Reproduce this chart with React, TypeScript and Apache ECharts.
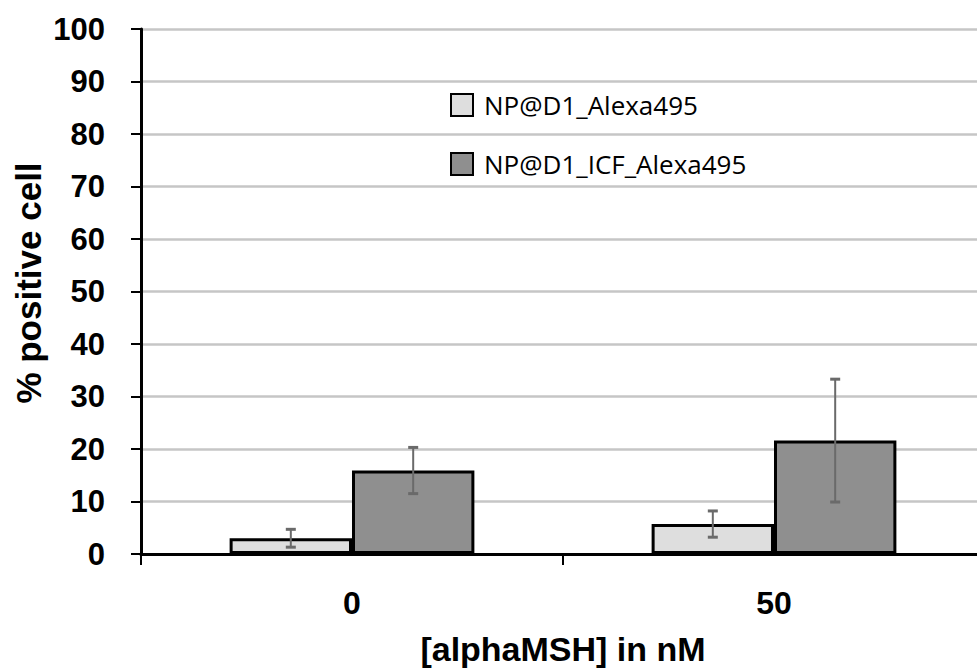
import React, { useEffect, useRef } from "react";
import * as echarts from "echarts";

const categories = ["0", "50"];
const seriesNames = ["NP@D1_Alexa495", "NP@D1_ICF_Alexa495"];
const lightValues = [3.0, 5.7];
const lightErrors = [1.7, 2.5];
const darkValues = [15.9, 21.6];
const darkErrors = [4.4, 11.7];
const yTicks = { min: 0, max: 100, interval: 10 };
const xAxisTitle = "[alphaMSH] in nM";
const yAxisTitle = "% positive cell";

const BAR_GAP_PCT = 42;

function errorSeries(values: number[], errors: number[], side: number) {
  return {
    type: "custom",
    coordinateSystem: "cartesian2d",
    z: 10,
    silent: true,
    encode: { x: 0, y: [1, 2] },
    data: values.map((v, i) => [i, v - errors[i], v + errors[i]]),
    renderItem: (params: any, api: any) => {
      const band = api.size([1, 0])[0];
      const barW = (band * (1 - BAR_GAP_PCT / 100)) / 2;
      const off = (side * barW) / 2;
      const lo = api.coord([api.value(0), api.value(1)]);
      const hi = api.coord([api.value(0), api.value(2)]);
      const x = lo[0] + off;
      const cap = 5;
      const style = { stroke: "#6a6a6a", lineWidth: 2, fill: "none" };
      return {
        type: "group",
        children: [
          { type: "line", shape: { x1: x, y1: lo[1], x2: x, y2: hi[1] }, style },
          { type: "line", shape: { x1: x - cap, y1: lo[1], x2: x + cap, y2: lo[1] }, style: { ...style, lineWidth: 3 } },
          { type: "line", shape: { x1: x - cap, y1: hi[1], x2: x + cap, y2: hi[1] }, style: { ...style, lineWidth: 3 } },
        ],
      };
    },
  };
}

export default function App() {
  const ref = useRef<HTMLDivElement>(null);
  useEffect(() => {
    if (!ref.current) return;
    const chart = echarts.init(ref.current, null, { renderer: "svg" });
    const labelFont = "'Liberation Sans', Arial, sans-serif";
    chart.setOption({
      animation: false,
      backgroundColor: "#ffffff",
      grid: { left: 141, top: 29, width: 844, height: 525, containLabel: false },
      legend: {
        orient: "vertical",
        left: 450,
        top: 92,
        padding: 0,
        itemWidth: 22,
        itemHeight: 22,
        itemGap: 33,
        icon: "rect",
        itemStyle: { borderColor: "#000", borderWidth: 2 },
        textStyle: {
          fontFamily: "'Open Sans', sans-serif",
          fontSize: 26,
          color: "#000",
          lineHeight: 22,
          padding: [0, 0, 0, 6],
        },
        data: seriesNames,
      },
      xAxis: {
        type: "category",
        data: categories,
        axisLine: { lineStyle: { color: "#000", width: 3 } },
        axisTick: { show: true, length: 11, lineStyle: { color: "#000", width: 2 } },
        axisLabel: {
          margin: 33,
          fontSize: 32,
          fontWeight: "bold",
          fontFamily: labelFont,
          color: "#000",
        },
        splitLine: { show: false },
      },
      yAxis: {
        type: "value",
        min: yTicks.min,
        max: yTicks.max,
        interval: yTicks.interval,
        axisLine: { show: true, lineStyle: { color: "#000", width: 3 } },
        axisTick: { show: true, length: 10, lineStyle: { color: "#000", width: 2 } },
        axisLabel: {
          margin: 36,
          fontSize: 31,
          fontWeight: "bold",
          fontFamily: labelFont,
          color: "#000",
        },
        splitLine: { lineStyle: { color: "#c6c6c6", width: 2.5 } },
      },
      graphic: [
        {
          type: "text",
          x: 28,
          y: 283,
          rotation: Math.PI / 2,
          style: {
            text: yAxisTitle,
            fontSize: 35,
            fontWeight: "bold",
            fontFamily: labelFont,
            fill: "#000",
            align: "center",
            verticalAlign: "middle",
          },
        },
        {
          type: "text",
          x: 563,
          y: 649,
          style: {
            text: xAxisTitle,
            fontSize: 34,
            fontWeight: "bold",
            fontFamily: labelFont,
            fill: "#000",
            align: "center",
            verticalAlign: "middle",
          },
        },
      ],
      series: [
        {
          name: seriesNames[0],
          type: "bar",
          data: lightValues,
          barGap: "0%",
          barCategoryGap: BAR_GAP_PCT + "%",
          itemStyle: { color: "#dedede", borderColor: "#000", borderWidth: 3 },
        },
        {
          name: seriesNames[1],
          type: "bar",
          data: darkValues,
          barGap: "0%",
          barCategoryGap: BAR_GAP_PCT + "%",
          itemStyle: { color: "#8f8f8f", borderColor: "#000", borderWidth: 3 },
        },
        errorSeries(lightValues, lightErrors, -1),
        errorSeries(darkValues, darkErrors, 1),
      ],
    });
    return () => chart.dispose();
  }, []);
  return (
    <div
      ref={ref}
      style={{ position: "fixed", left: 0, top: 0, width: 990, height: 669 }}
    />
  );
}
